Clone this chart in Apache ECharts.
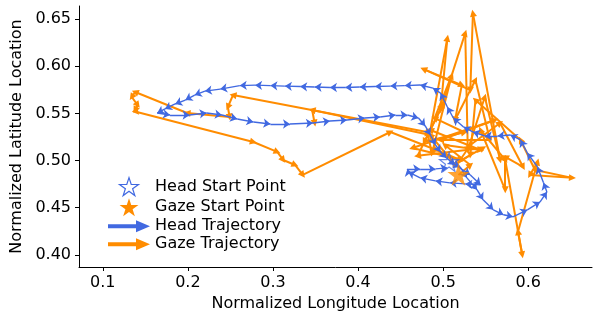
<!DOCTYPE html>
<html>
<head>
<meta charset="utf-8">
<script src="https://cdn.jsdelivr.net/npm/echarts@6/dist/echarts.min.js"></script>
<style>
  html, body { margin: 0; padding: 0; background: #fff; }
  #main { width: 593px; height: 320px; }
</style>
</head>
<body>
<div id="main"></div>
<script>
const xTicks = [0.1, 0.2, 0.3, 0.4, 0.5, 0.6];
const yTicks = [0.40, 0.45, 0.50, 0.55, 0.60, 0.65];

// head trajectory (normalized lon / lat)
const headX = [0.507,0.520,0.528,0.540,0.547,0.559,0.571,0.582,0.599,0.614,0.622,0.618,0.611,0.599,0.591,0.579,0.564,0.549,0.535,0.524,0.512,0.505,0.497,0.488,0.473,0.455,0.438,0.420,0.402,0.385,0.367,0.349,0.332,0.314,0.297,0.279,0.261,0.238,0.220,0.208,0.197,0.185,0.173,0.164,0.179,0.202,0.222,0.240,0.258,0.277,0.297,0.320,0.347,0.367,0.387,0.408,0.426,0.444,0.458,0.471,0.479,0.485,0.491,0.497,0.504,0.514,0.532,0.544,0.526,0.508,0.491,0.473,0.459,0.458,0.473,0.491,0.505];
const headY = [0.4985,0.4932,0.4816,0.4689,0.4583,0.4477,0.4424,0.4403,0.4477,0.4561,0.4667,0.4763,0.4932,0.508,0.5218,0.5271,0.5261,0.5261,0.5303,0.5356,0.5451,0.5568,0.5716,0.5769,0.5801,0.5795,0.579,0.5785,0.578,0.5775,0.5775,0.578,0.5785,0.579,0.5795,0.58,0.5795,0.5758,0.5737,0.5695,0.5642,0.56,0.5547,0.5504,0.5483,0.5483,0.5504,0.5483,0.5441,0.5409,0.5388,0.5388,0.5398,0.542,0.543,0.5451,0.5462,0.5483,0.5483,0.5451,0.5367,0.5271,0.5165,0.5091,0.5028,0.4953,0.4847,0.4742,0.4752,0.4763,0.4784,0.4816,0.4879,0.4911,0.4911,0.4911,0.4922];

// gaze trajectory
const gazeX = [0.518,0.532,0.502,0.544,0.485,0.505,0.497,0.526,0.529,0.549,0.567,0.535,0.532,0.477,0.522,0.514,0.538,0.555,0.497,0.561,0.464,0.522,0.547,0.470,0.500,0.478,0.525,0.490,0.510,0.487,0.481,0.253,0.247,0.249,0.199,0.138,0.134,0.141,0.138,0.140,0.277,0.305,0.312,0.326,0.335,0.438,0.492,0.520,0.532,0.567,0.594,0.573,0.573,0.544,0.573,0.593,0.588,0.611,0.602,0.652,0.608,0.591,0.538,0.532,0.514,0.485,0.346,0.349];
const gazeY = [0.4847,0.4953,0.5165,0.5112,0.5324,0.6299,0.5536,0.6352,0.5112,0.5674,0.5006,0.6564,0.5748,0.597,0.5801,0.543,0.5854,0.5218,0.5218,0.543,0.5133,0.5006,0.5133,0.505,0.560,0.520,0.530,0.545,0.590,0.508,0.5303,0.5695,0.5568,0.5462,0.5504,0.5727,0.5674,0.5589,0.5536,0.5515,0.5197,0.5091,0.5006,0.4953,0.4847,0.5303,0.5112,0.5006,0.5165,0.5398,0.4932,0.5038,0.4689,0.5324,0.5006,0.40,0.4244,0.4985,0.4847,0.4816,0.49,0.5218,0.5642,0.5059,0.4953,0.5271,0.5536,0.5398];

const headStart = [0.507, 0.4985];
const gazeStart = [0.518, 0.485];

const BLUE = '#4169E1';
const ORANGE = '#FF8C00';
const FONT = 'DejaVu Sans';
const STAR = 'path://M10,0L12.245,6.91L19.511,6.91L13.633,11.18L15.878,18.09L10,13.82L4.122,18.09L6.367,11.18L0.489,6.91L7.755,6.91Z';
const ARROW = 'path://M0,4L28,4L28,0L42,6L28,12L28,8L0,8Z';

// one arrow per step
function segments(xs, ys) {
  let out = [];
  for (let i = 1; i < xs.length; i++) {
    out.push({coords: [[xs[i - 1], ys[i - 1]], [xs[i], ys[i]]]});
  }
  return out;
}

const chart = echarts.init(document.getElementById('main'));
chart.setOption({
  animation: false,
  grid: {left: 79, right: 1, top: 6, bottom: 53},
  legend: {
    orient: 'vertical',
    left: 103,
    top: 172,
    itemWidth: 42,
    itemHeight: 18,
    itemGap: 2,
    selectedMode: false,
    symbolKeepAspect: true,
    textStyle: {fontFamily: FONT, fontSize: 16, color: '#000'},
    data: [
      {name: 'Head Start Point', icon: STAR, itemStyle: {color: '#fff', borderColor: BLUE, borderWidth: 1.2, opacity: 1}},
      {name: 'Gaze Start Point', icon: STAR, itemStyle: {color: ORANGE, borderWidth: 0, opacity: 1}},
      {name: 'Head Trajectory', icon: ARROW, itemStyle: {color: BLUE, borderWidth: 0, opacity: 1}},
      {name: 'Gaze Trajectory', icon: ARROW, itemStyle: {color: ORANGE, borderWidth: 0, opacity: 1}}
    ]
  },
  xAxis: {
    type: 'value',
    min: 0.072,
    max: 0.675,
    name: 'Normalized Longitude Location',
    nameLocation: 'middle',
    nameGap: 28,
    nameTextStyle: {fontFamily: FONT, fontSize: 16, color: '#000'},
    axisLine: {show: true, lineStyle: {color: '#000', width: 1}},
    axisTick: {show: true, length: 4, customValues: xTicks, lineStyle: {color: '#000'}},
    axisLabel: {customValues: xTicks, formatter: v => v.toFixed(1), margin: 8, fontFamily: FONT, fontSize: 16, color: '#000'},
    splitLine: {show: false}
  },
  yAxis: {
    type: 'value',
    min: 0.387,
    max: 0.664,
    name: 'Normalized Latitude Location',
    nameLocation: 'middle',
    nameGap: 54,
    nameTextStyle: {fontFamily: FONT, fontSize: 16, color: '#000'},
    axisLine: {show: true, lineStyle: {color: '#000', width: 1}},
    axisTick: {show: true, length: 4, customValues: yTicks, lineStyle: {color: '#000'}},
    axisLabel: {customValues: yTicks, formatter: v => v.toFixed(2), margin: 8, fontFamily: FONT, fontSize: 16, color: '#000'},
    splitLine: {show: false}
  },
  series: [
    {
      name: 'Gaze Trajectory',
      type: 'lines',
      coordinateSystem: 'cartesian2d',
      silent: true,
      symbol: ['none', 'triangle'],
      symbolSize: 7,
      lineStyle: {color: ORANGE, width: 2, opacity: 1, curveness: 0},
      data: segments(gazeX, gazeY),
      z: 2
    },
    {
      name: 'Head Trajectory',
      type: 'lines',
      coordinateSystem: 'cartesian2d',
      silent: true,
      symbol: ['none', 'arrow'],
      symbolSize: 7,
      lineStyle: {color: BLUE, width: 1.4, opacity: 1, curveness: 0},
      data: segments(headX, headY),
      z: 3
    },
    {
      name: 'Head Start Point',
      type: 'scatter',
      symbol: STAR,
      symbolSize: 19,
      itemStyle: {color: 'rgba(255,255,255,0)', borderColor: BLUE, borderWidth: 1.2},
      data: [headStart],
      z: 4
    },
    {
      name: 'Gaze Start Point',
      type: 'scatter',
      symbol: STAR,
      symbolSize: 22,
      itemStyle: {color: ORANGE},
      data: [gazeStart],
      z: 5
    }
  ]
});
</script>
</body>
</html>
